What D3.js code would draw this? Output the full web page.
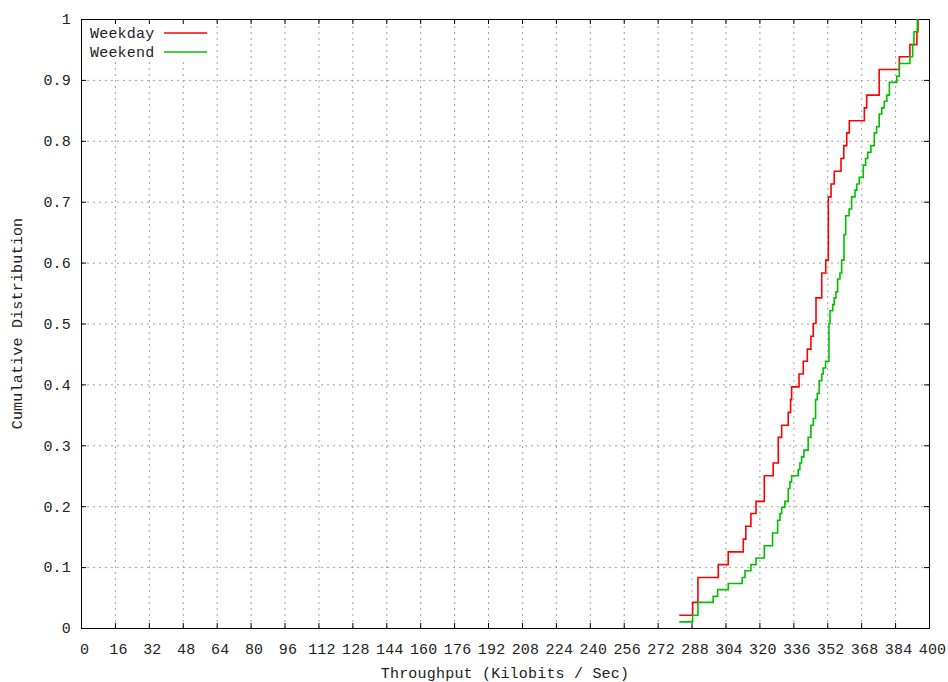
<!DOCTYPE html>
<html>
<head>
<meta charset="utf-8">
<script src="https://cdn.jsdelivr.net/npm/d3@7"></script>
<style>
  body { margin: 0; background: #fff; }
  text { font-family: "Liberation Mono", "DejaVu Sans Mono", monospace; font-size: 15px; letter-spacing: 0.2px; fill: #222; }
</style>
</head>
<body>
<div id="chart"></div>
<script>
// throughput (kbit/s) where each CDF step happens, and the level after the step
const weekdayX = [282.2, 288.5, 291.0, 300.6, 305.3, 312.4, 313.6, 316.0, 318.4, 322.3, 326.5, 328.9, 330.5, 333.6, 334.7, 335.2, 338.7, 340.7, 342.6, 344.3, 345.4, 346.7, 349.4, 351.3, 352.5, 353.8, 355.3, 358.5, 359.8, 361.2, 362.4, 369.5, 370.6, 376.5, 386.0, 391.0, 394.3, 394.8]
const weekdayCdf = [0.021, 0.042, 0.083, 0.104, 0.125, 0.146, 0.167, 0.188, 0.208, 0.25, 0.271, 0.313, 0.333, 0.354, 0.375, 0.396, 0.417, 0.438, 0.458, 0.479, 0.5, 0.542, 0.583, 0.604, 0.708, 0.729, 0.75, 0.771, 0.792, 0.813, 0.833, 0.854, 0.875, 0.917, 0.938, 0.958, 0.979, 1]

const weekendX = [282.2, 288.5, 291.0, 298.2, 300.3, 305.3, 311.9, 313.2, 316.0, 318.4, 322.3, 326.2, 328.6, 329.7, 330.5, 332.0, 333.6, 334.4, 335.2, 338.3, 339.1, 339.9, 341.0, 343.0, 344.3, 345.4, 346.5, 347.3, 348.2, 349.4, 350.1, 351.2, 352.8, 353.3, 354.6, 355.3, 356.1, 356.9, 358.0, 358.8, 359.9, 360.7, 362.3, 363.5, 365.1, 365.9, 367.1, 369.0, 370.1, 371.1, 372.6, 374.2, 375.3, 376.5, 377.7, 378.9, 380.1, 381.3, 384.8, 386.0, 391.0, 392.3, 392.9, 394.5]
const weekendCdf = [0.010, 0.021, 0.042, 0.052, 0.063, 0.073, 0.083, 0.094, 0.104, 0.115, 0.135, 0.156, 0.177, 0.188, 0.198, 0.208, 0.229, 0.240, 0.25, 0.260, 0.271, 0.281, 0.292, 0.313, 0.333, 0.344, 0.375, 0.385, 0.406, 0.417, 0.427, 0.438, 0.5, 0.521, 0.531, 0.542, 0.552, 0.573, 0.583, 0.604, 0.646, 0.677, 0.688, 0.708, 0.719, 0.729, 0.740, 0.760, 0.771, 0.781, 0.792, 0.813, 0.823, 0.844, 0.854, 0.865, 0.875, 0.896, 0.906, 0.927, 0.938, 0.958, 0.979, 1]

const seriesNames = ["Weekday", "Weekend"]
const seriesColors = ["#ff0000", "#00c000"]

const xTicks = [0, 16, 32, 48, 64, 80, 96, 112, 128, 144, 160, 176, 192, 208, 224, 240, 256, 272, 288, 304, 320, 336, 352, 368, 384, 400]
const yTicks = [0, 0.1, 0.2, 0.3, 0.4, 0.5, 0.6, 0.7, 0.8, 0.9, 1]
const yTickLabels = ["0", "0.1", "0.2", "0.3", "0.4", "0.5", "0.6", "0.7", "0.8", "0.9", "1"]

;(function () {
  const width = 948
  const height = 682

  const svg = d3.select("#chart").append("svg").attr("width", width).attr("height", height)

  const x = d3.scaleLinear().domain([0, 400]).range([81, 929])
  const y = d3.scaleLinear().domain([0, 1]).range([628, 19])
  const plotH = y(0) - y(1)
  const plotW = x(400) - x(0)

  // dotted grid
  const gridX = svg.append("g")
    .attr("transform", `translate(0,${y(0)})`)
    .call(d3.axisBottom(x).tickValues(xTicks.slice(1, -1)).tickSize(-plotH).tickFormat(""))
  const gridY = svg.append("g")
    .attr("transform", `translate(${x(0)},0)`)
    .call(d3.axisLeft(y).tickValues(yTicks.slice(1, -1)).tickSize(-plotW).tickFormat(""))
  ;[gridX, gridY].forEach(g => {
    g.select(".domain").remove()
    g.selectAll("line").attr("stroke", "#a0a0a0").attr("stroke-dasharray", "2,4")
  })

  // key sits on an opaque box
  svg.append("rect").attr("x", 82).attr("y", 20).attr("width", 130).attr("height", 40).attr("fill", "#fff")

  // border + inward ticks on all four sides
  svg.append("rect")
    .attr("x", x(0) + 0.5).attr("y", y(1) + 0.5)
    .attr("width", plotW).attr("height", plotH)
    .attr("fill", "none").attr("stroke", "#000")

  const bottom = svg.append("g")
    .attr("transform", `translate(0,${y(0)})`)
    .call(d3.axisBottom(x).tickValues(xTicks).tickSize(-5).tickPadding(15).tickFormat(d => d))
  bottom.selectAll("text").attr("dx", 3)
  const top = svg.append("g")
    .attr("transform", `translate(0,${y(1)})`)
    .call(d3.axisTop(x).tickValues(xTicks).tickSize(-5).tickFormat(""))
  const left = svg.append("g")
    .attr("transform", `translate(${x(0)},0)`)
    .call(d3.axisLeft(y).tickValues(yTicks).tickSize(-5).tickPadding(10).tickFormat((d, i) => yTickLabels[i]))
  const right = svg.append("g")
    .attr("transform", `translate(${x(400)},0)`)
    .call(d3.axisRight(y).tickValues(yTicks).tickSize(-5).tickFormat(""))
  ;[bottom, top, left, right].forEach(g => {
    g.select(".domain").remove()
    g.selectAll("line").attr("stroke", "#000")
    g.selectAll("text").attr("font-family", null).attr("font-size", null).attr("fill", null)
  })

  // step curves
  const line = d3.line().x(d => x(d[0])).y(d => y(d[1])).curve(d3.curveStepAfter)
  const series = [d3.zip(weekdayX, weekdayCdf), d3.zip(weekendX, weekendCdf)]
  svg.append("g").selectAll("path")
    .data(series)
    .join("path")
    .attr("d", line)
    .attr("fill", "none")
    .attr("stroke", (d, i) => seriesColors[i])
    .attr("stroke-width", 1.6)

  // key: one row per series
  const key = svg.append("g").attr("class", "key")
  seriesNames.forEach((name, i) => {
    const ky = 33 + i * 19
    key.append("text").attr("x", 90).attr("y", ky + 5).text(name)
    key.append("path")
      .attr("d", `M164,${ky}H207`)
      .attr("fill", "none")
      .style("stroke", seriesColors[i])
      .style("stroke-width", "1.6px")
  })

  // axis titles
  svg.append("text")
    .attr("x", (x(0) + x(400)) / 2).attr("y", 678)
    .attr("text-anchor", "middle")
    .text("Throughput (Kilobits / Sec)")
  svg.append("text")
    .attr("transform", `translate(22,${(y(0) + y(1)) / 2}) rotate(-90)`)
    .attr("text-anchor", "middle")
    .text("Cumulative Distribution")
})()
</script>
</body>
</html>
